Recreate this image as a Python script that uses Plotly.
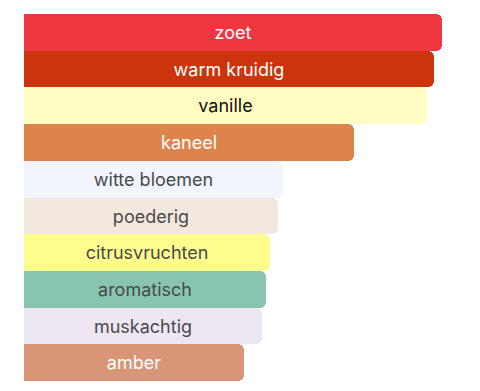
import plotly.graph_objects as go

categories = ["zoet", "warm kruidig", "vanille", "kaneel", "witte bloemen",
              "poederig", "citrusvruchten", "aromatisch", "muskachtig", "amber"]
values = [100, 98.1, 96.5, 79.0, 62.0, 60.8, 58.8, 57.9, 57.0, 52.7]
bar_colors = ["#EE3741", "#CB340C", "#FFFDC2", "#DC844C", "#F2F5FD",
              "#F3E8DD", "#FDFD8E", "#88C5B1", "#EEE6F2", "#D89577"]
text_colors = ["#FFFFFF", "#FFFFFF", "#111111", "#FFFFFF", "#4A4A4A",
               "#4A4A4A", "#4A4A4A", "#4A4A4A", "#4A4A4A", "#FFFFFF"]

fig = go.Figure(go.Bar(
    x=values,
    y=categories,
    orientation="h",
    marker=dict(color=bar_colors, line=dict(width=0)),
    text=categories,
    textposition="inside",
    insidetextanchor="middle",
    textfont=dict(color=text_colors, size=18, family="Inter, sans-serif"),
    textangle=0,
    constraintext="none",
    hoverinfo="skip",
))

fig.update_layout(
    width=480, height=391,
    margin=dict(l=24, r=0, t=14, b=10),
    paper_bgcolor="white", plot_bgcolor="white",
    bargap=0,
    barcornerradius=6,
    showlegend=False,
    xaxis=dict(range=[0, 100 * 456 / 418], visible=False, fixedrange=True),
    yaxis=dict(autorange="reversed", visible=False, fixedrange=True),
)

fig.write_html("out.html")
